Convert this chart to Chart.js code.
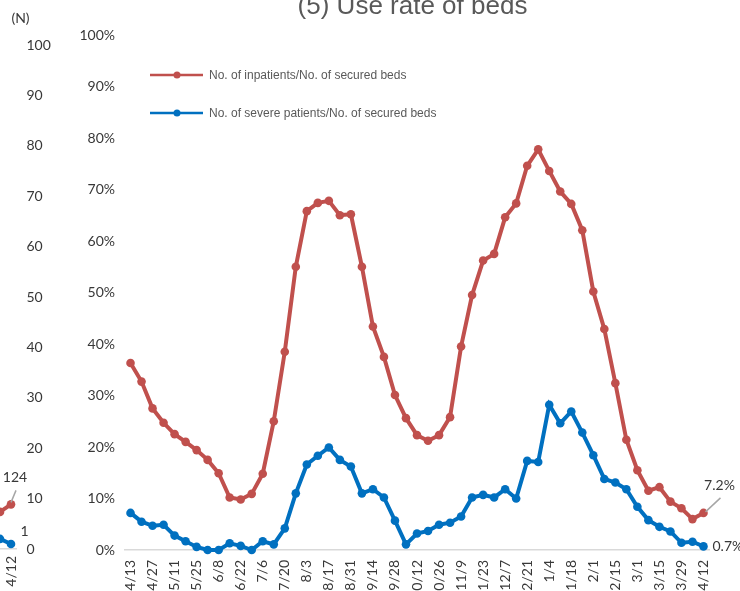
<!DOCTYPE html>
<html>
<head>
<meta charset="utf-8">
<script src="https://cdn.jsdelivr.net/npm/chart.js@4.4.0/dist/chart.umd.min.js"></script>
<style>
  html, body { margin: 0; padding: 0; background: #fff; }
  #wrap { position: relative; width: 740px; height: 591px; overflow: hidden; }
  #left { position: absolute; left: -20px; top: 0; }
  #main { position: absolute; left: 60px; top: 0; }
</style>
</head>
<body>
<div id="wrap">
  <canvas id="left" width="80" height="591"></canvas>
  <canvas id="main" width="680" height="591"></canvas>
</div>
<script>
// weekly dates, 2020/4/13 - 2021/4/12
const weeks = ['4/13','4/20','4/27','5/4','5/11','5/18','5/25','6/1','6/8','6/15','6/22','6/29',
  '7/6','7/13','7/20','7/27','8/3','8/10','8/17','8/24','8/31','9/7','9/14','9/21','9/28',
  '10/5','10/12','10/19','10/26','11/2','11/9','11/16','11/23','11/30','12/7','12/14','12/21','12/28',
  '1/4','1/11','1/18','1/25','2/1','2/8','2/15','2/22','3/1','3/8','3/15','3/22','3/29','4/5','4/12'];

// (%)
const inpatientRate = [36.3,32.7,27.5,24.7,22.5,21.0,19.4,17.5,14.9,10.2,9.8,10.9,
  14.8,25.0,38.5,55.0,65.8,67.4,67.8,65.0,65.2,55.0,43.4,37.5,30.1,
  25.6,22.3,21.2,22.3,25.8,39.5,49.5,56.2,57.5,64.6,67.3,74.6,77.8,
  73.6,69.6,67.2,62.1,50.2,42.9,32.4,21.4,15.5,11.5,12.2,9.4,8.1,6.0,7.2];
const severeRate = [7.2,5.5,4.7,4.9,2.8,1.7,0.6,0,0,1.3,0.8,0,
  1.7,1.1,4.2,11.0,16.6,18.3,19.9,17.5,16.2,11.0,11.8,10.2,5.7,
  1.1,3.2,3.7,4.9,5.3,6.5,10.2,10.7,10.2,11.8,10.0,17.3,17.1,
  28.2,24.6,26.9,22.8,18.4,13.8,13.1,11.8,8.4,5.8,4.5,3.6,1.4,1.6,0.7];

// right end of the neighbouring chart (4)
const leftWeeks = ['4/5','4/12'];
const leftInpatients = [103,124];
const leftSevere = [2,1];

const chartTitle = '(5) Use rate of beds';
const seriesNames = ['No. of inpatients/No. of secured beds','No. of severe patients/No. of secured beds'];

const RED = '#C0504D';
const BLUE = '#0070C0';
const TICK_FONT = { family: 'Lato, "Open Sans", sans-serif', size: 14 };
const TICK_COLOR = '#383838';

function lineSet(label, data, color, yAxisID) {
  return {
    label: label, data: data, yAxisID: yAxisID,
    borderColor: color, backgroundColor: color,
    borderWidth: 4, pointRadius: 4.3, pointBorderWidth: 0,
    pointBackgroundColor: color, tension: 0, clip: false
  };
}

function everyOther(labels) {
  return function(v, i) {
    return (labels.length - 1 - i) % 2 === 0 ? labels[i] : '';
  };
}

const mainDecor = {
  id: 'mainDecor',
  afterDraw(chart) {
    const ctx = chart.ctx, a = chart.chartArea;
    ctx.save();

    ctx.fillStyle = '#595959';
    ctx.font = '26px "Liberation Sans", Arial, sans-serif';
    ctx.textAlign = 'center';
    ctx.textBaseline = 'alphabetic';
    ctx.fillText(chartTitle, 352.5, 14);

    // legend inside the plot
    ctx.font = '12px "Liberation Sans", Arial, sans-serif';
    ctx.textAlign = 'left';
    ctx.textBaseline = 'middle';
    [RED, BLUE].forEach((c, i) => {
      const y = a.top + 40 + 38 * i;
      ctx.strokeStyle = c;
      ctx.lineWidth = 2.5;
      ctx.beginPath();
      ctx.moveTo(a.left + 25, y);
      ctx.lineTo(a.left + 78, y);
      ctx.stroke();
      ctx.fillStyle = c;
      ctx.beginPath();
      ctx.arc(a.left + 52, y, 3.5, 0, Math.PI * 2);
      ctx.fill();
      ctx.fillStyle = '#595959';
      ctx.fillText(seriesNames[i], a.left + 84, y + 1);
    });

    // end labels
    const last = weeks.length - 1;
    const pr = chart.getDatasetMeta(0).data[last];
    const pb = chart.getDatasetMeta(1).data[last];
    ctx.strokeStyle = '#a6a6a6';
    ctx.lineWidth = 1.5;
    ctx.beginPath();
    ctx.moveTo(pr.x + 2, pr.y - 1);
    ctx.lineTo(pr.x + 17, pr.y - 15);
    ctx.stroke();
    ctx.font = '14px ' + TICK_FONT.family;
    ctx.fillStyle = TICK_COLOR;
    ctx.textAlign = 'center';
    ctx.fillText(inpatientRate[last].toFixed(1) + '%', pr.x + 16, pr.y - 27);
    ctx.textAlign = 'left';
    ctx.fillText(severeRate[last].toFixed(1) + '%', pb.x + 9, pb.y);
    ctx.restore();
  }
};

new Chart(document.getElementById('main'), {
  type: 'line',
  data: {
    labels: weeks,
    datasets: [
      lineSet(seriesNames[0], inpatientRate, RED, 'y'),
      lineSet(seriesNames[1], severeRate, BLUE, 'y')
    ]
  },
  options: {
    responsive: false, animation: false, devicePixelRatio: 1,
    layout: { padding: { top: 35, right: 31, left: 0, bottom: 0 } },
    plugins: { legend: { display: false }, tooltip: { enabled: false } },
    scales: {
      x: {
        offset: true,
        grid: { display: false, drawTicks: false },
        border: { display: true, color: '#d9d9d9', width: 1.5 },
        ticks: { autoSkip: false, minRotation: 90, maxRotation: 90, padding: 10,
          color: TICK_COLOR, font: TICK_FONT, callback: everyOther(weeks) },
        afterFit(s) { s.height = 41; }
      },
      y: {
        min: 0, max: 100,
        grid: { display: false, drawTicks: false },
        border: { display: false },
        ticks: { stepSize: 10, padding: 10, color: TICK_COLOR, font: TICK_FONT,
          callback: v => v + '%' },
        afterFit(s) { s.width = 65; }
      }
    }
  },
  plugins: [mainDecor]
});

const leftDecor = {
  id: 'leftDecor',
  afterDraw(chart) {
    const ctx = chart.ctx;
    ctx.save();
    ctx.font = '14px ' + TICK_FONT.family;
    ctx.fillStyle = TICK_COLOR;
    ctx.textAlign = 'center';
    ctx.textBaseline = 'middle';
    ctx.fillText('(N)', 40.5, 18);

    const last = leftWeeks.length - 1;
    const pr = chart.getDatasetMeta(0).data[last];
    const pb = chart.getDatasetMeta(1).data[last];
    ctx.strokeStyle = '#a6a6a6';
    ctx.lineWidth = 1.5;
    ctx.beginPath();
    ctx.moveTo(pr.x, pr.y - 2);
    ctx.lineTo(pr.x + 5, pr.y - 14);
    ctx.stroke();
    ctx.fillText(String(leftInpatients[last]), pr.x + 4, pr.y - 27);
    ctx.fillText(String(leftSevere[last]), pb.x + 13.5, pb.y - 12);
    ctx.restore();
  }
};

new Chart(document.getElementById('left'), {
  type: 'line',
  data: {
    labels: leftWeeks,
    datasets: [
      lineSet('inpatients', leftInpatients, RED, 'yPatients'),
      lineSet('severe', leftSevere, BLUE, 'yN')
    ]
  },
  options: {
    responsive: false, animation: false, devicePixelRatio: 1,
    layout: { padding: { top: 45, right: 0, left: 14.5, bottom: 0 } },
    plugins: { legend: { display: false }, tooltip: { enabled: false } },
    scales: {
      x: {
        offset: true,
        grid: { display: false, drawTicks: false },
        border: { display: true, color: '#d9d9d9', width: 1.5 },
        ticks: { autoSkip: false, minRotation: 90, maxRotation: 90, padding: 7,
          color: TICK_COLOR, font: TICK_FONT, callback: everyOther(leftWeeks) },
        afterFit(s) { s.height = 42; }
      },
      yPatients: { display: false, position: 'left', min: 0, max: 1400 },
      yN: {
        position: 'right', min: 0, max: 100,
        grid: { display: false, drawTicks: false },
        border: { display: false },
        ticks: { stepSize: 10, padding: 10, color: TICK_COLOR, font: TICK_FONT },
        afterFit(s) { s.width = 43.5; }
      }
    }
  },
  plugins: [leftDecor]
});
</script>
</body>
</html>
